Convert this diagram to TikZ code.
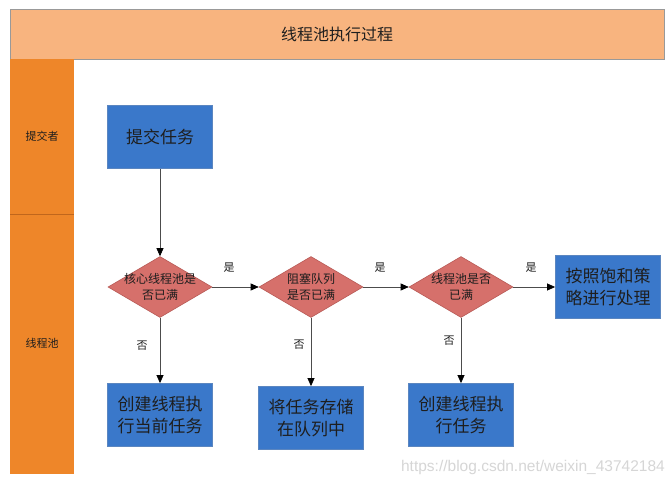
\documentclass[tikz,border=0pt]{standalone}
\usepackage{fontspec}
\setmainfont{Noto Sans CJK SC}
\newfontfamily\wmfont{Liberation Sans}
\usetikzlibrary{shapes.geometric,arrows.meta}
\definecolor{titlebg}{HTML}{F8B47F}
\definecolor{lanebg}{HTML}{EE8629}
\definecolor{laneline}{HTML}{C0661C}
\definecolor{boxblue}{HTML}{3A78CA}
\definecolor{boxedge}{HTML}{5B86C0}
\definecolor{diafill}{HTML}{D6706B}
\definecolor{diaedge}{HTML}{B85A56}
\definecolor{txt}{HTML}{1E1E1E}
\tikzset{
  x=1pt, y=-1pt,
  bluebox/.style={draw=boxedge, line width=0.8pt, fill=boxblue, minimum width=105pt, minimum height=63pt, inner sep=0pt, align=center, font=\fontsize{17}{22}\selectfont, text=txt},
  dia/.style={diamond, draw=diaedge, line width=0.6pt, fill=diafill, minimum width=104pt, minimum height=61pt, inner sep=0pt, aspect=1.7},
  dialabel/.style={align=center, font=\fontsize{12}{16}\selectfont, text=txt, inner sep=0pt},
  flow/.style={draw=black!70, line width=0.7pt, -{Triangle[length=8pt,width=7pt,fill=black,color=black]}},
  decision/.style={font=\fontsize{11}{13}\selectfont, text=txt, inner sep=0pt},
  lanelabel/.style={font=\fontsize{11}{13}\selectfont, text=txt, inner sep=0pt},
}
\begin{document}
\begin{tikzpicture}
\useasboundingbox (0,0) rectangle (672,486);
\fill[white] (0,0) rectangle (672,486);
% lanes
\node[draw=black!40, fill=titlebg, minimum width=654pt, minimum height=50pt, inner sep=0pt, anchor=north west, font=\fontsize{16}{18}\selectfont, text=txt] (title) at (10,9) {线程池执行过程};
\node[fill=lanebg, minimum width=64pt, minimum height=415pt, inner sep=0pt, anchor=north west] (lane) at (10,59) {};
\coordinate (divl) at (10,214);
\coordinate (divr) at (74,214);
\draw[laneline, line width=0.8pt] (divl) -- (divr);
\node[lanelabel] (l1) at (42,136) {提交者};
\node[lanelabel] (l2) at (42,343) {线程池};
% nodes
\node[bluebox] (submit) at (160,137) {提交任务};
\node[dia] (d1) at (160,287) {};
\node[dialabel] (t1) at (160,287) {核心线程池是\\否已满};
\node[dia] (d2) at (311,287) {};
\node[dialabel] (t2) at (311,287) {阻塞队列\\是否已满};
\node[dia] (d3) at (461,287) {};
\node[dialabel] (t3) at (461,287) {线程池是否\\已满};
\node[bluebox] (reject) at (608,287) {按照饱和策\\略进行处理};
\node[bluebox] (b1) at (160,415) {创建线程执\\行当前任务};
\node[bluebox] (b2) at (311,418) {将任务存储\\在队列中};
\node[bluebox] (b3) at (461,415) {创建线程执\\行任务};
% arrows
\draw[flow] (submit) -- (d1.north);
\draw[flow] (d1.east) -- (d2.west);
\draw[flow] (d2.east) -- (d3.west);
\draw[flow] (d3.east) -- (reject.west);
\draw[flow] (d1.south) -- (b1.north);
\draw[flow] (d2.south) -- (b2.north);
\draw[flow] (d3.south) -- (b3.north);
% decision labels
\node[decision] (y1) at (229,268) {是};
\node[decision] (y2) at (380,268) {是};
\node[decision] (y3) at (531,268) {是};
\node[decision] (n1) at (142,346) {否};
\node[decision] (n2) at (299,345) {否};
\node[decision] (n3) at (449,341) {否};
% watermark
\node[font=\wmfont\fontsize{15.5}{17}\selectfont, text=black!16, anchor=east, inner sep=0pt] (wm) at (665,467) {https://blog.csdn.net/weixin\_43742184};
\end{tikzpicture}
\end{document}
